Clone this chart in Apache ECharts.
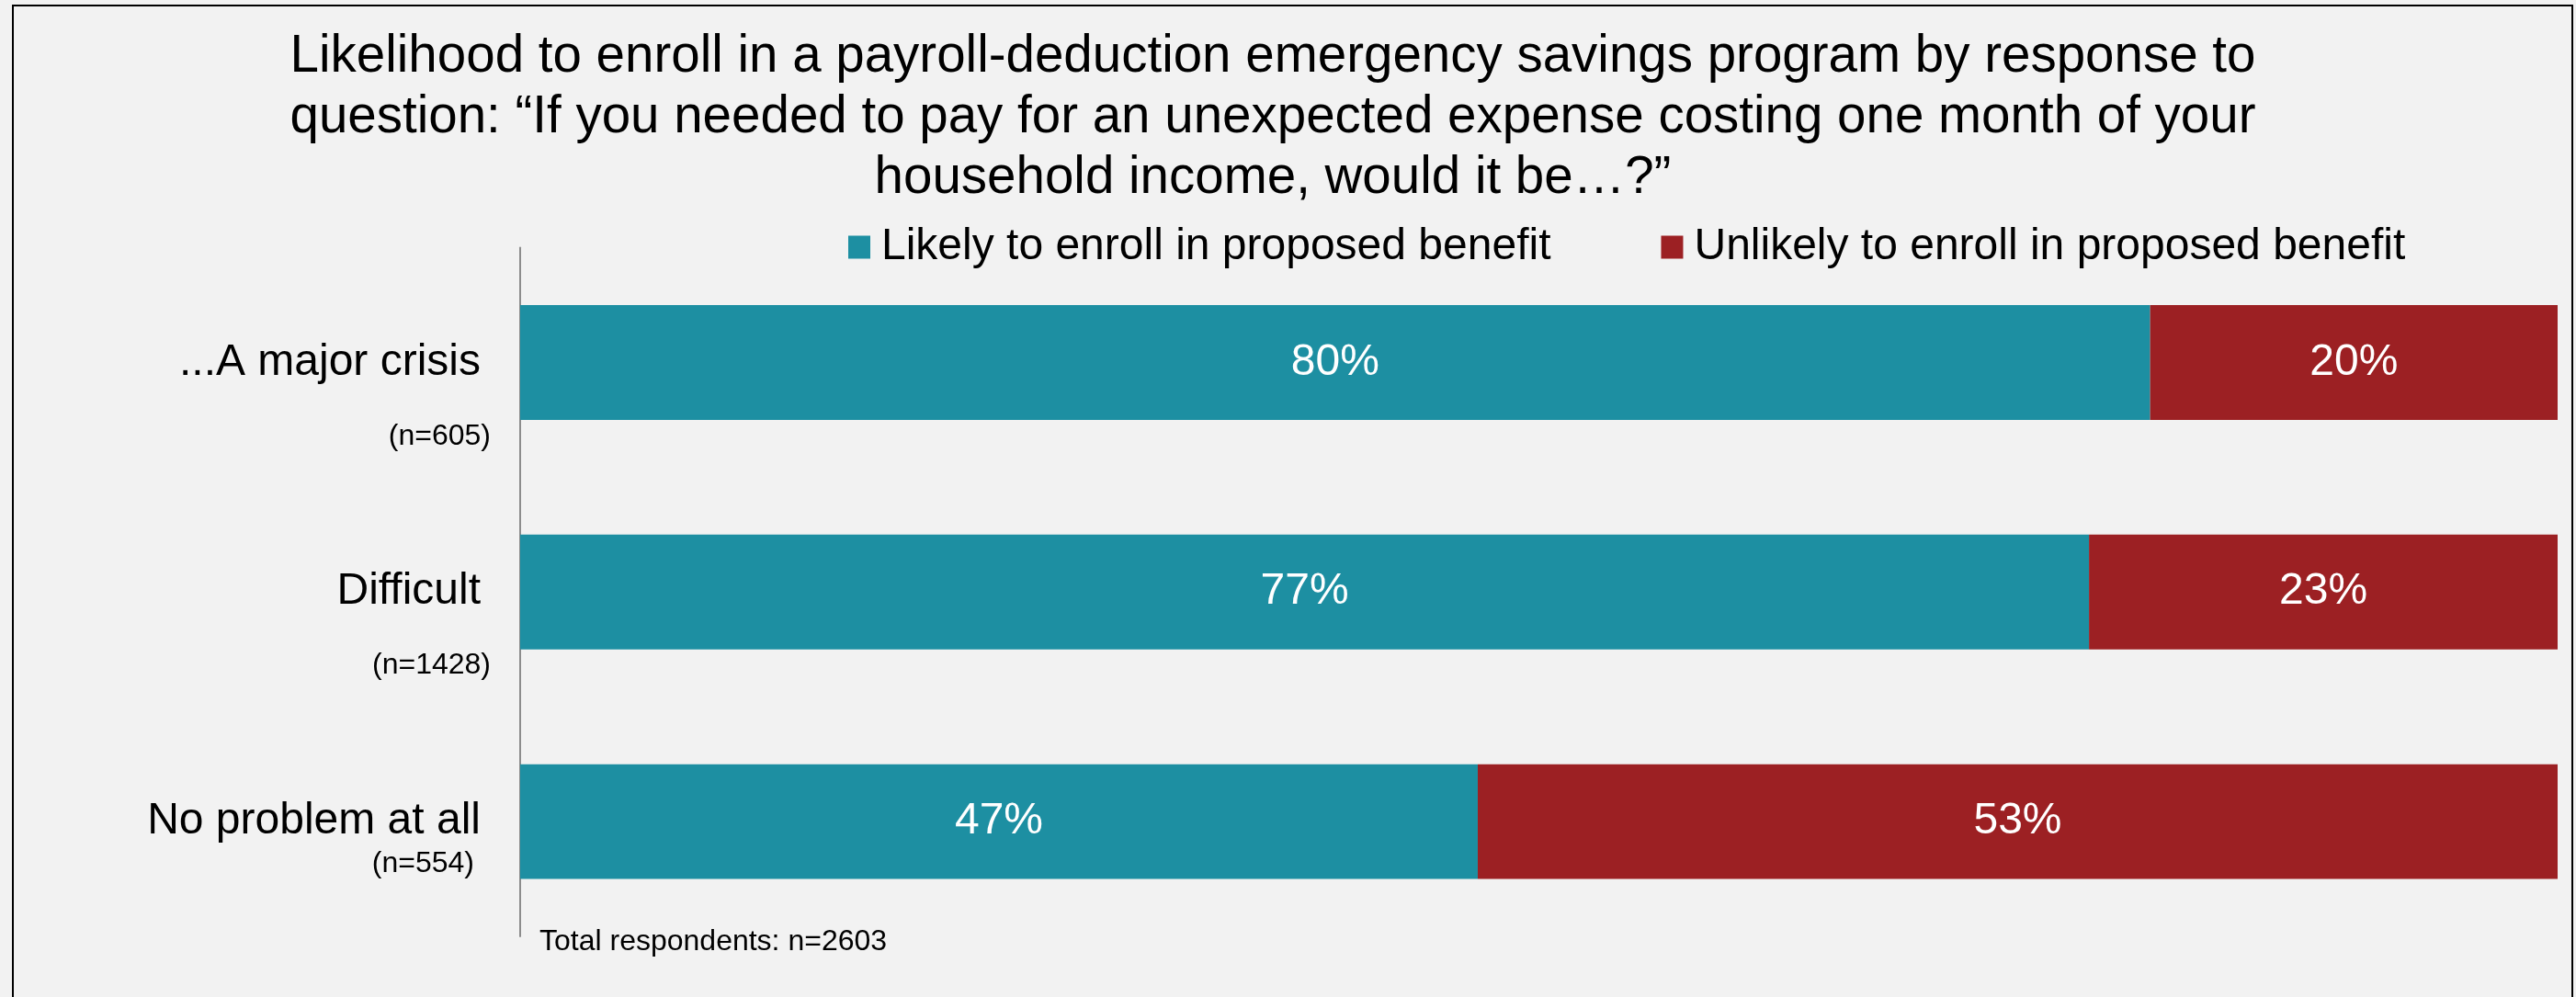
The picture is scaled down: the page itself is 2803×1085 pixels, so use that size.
<!DOCTYPE html>
<html>
<head>
<meta charset="utf-8">
<script src="https://cdn.jsdelivr.net/npm/echarts@6/dist/echarts.min.js"></script>
<style>
  html, body { margin: 0; padding: 0; background: #F2F2F2; }
  #chart { width: 2803px; height: 1085px; }
</style>
</head>
<body>
<div id="chart"></div>
<script>
const categories = ['...A major crisis', 'Difficult', 'No problem at all'];
const subLabels = ['(n=605)', '(n=1428)', '(n=554)'];
const likely = [80, 77, 47];
const unlikely = [20, 23, 53];
const seriesNames = ['Likely to enroll in proposed benefit', 'Unlikely to enroll in proposed benefit'];
const titleText = 'Likelihood to enroll in a payroll-deduction emergency savings program by response to\nquestion: \u201cIf you needed to pay for an unexpected expense costing one month of your\nhousehold income, would it be\u2026?\u201d';
const footnote = 'Total respondents: n=2603';

const FONT = '"Liberation Sans", Arial, Helvetica, sans-serif';
const chart = echarts.init(document.getElementById('chart'), null, { renderer: 'canvas' });

const labelStyle = { show: true, position: 'inside', color: '#FFFFFF', fontSize: 48, fontFamily: FONT, formatter: p => p.value + '%' };

chart.setOption({
  backgroundColor: '#F2F2F2',
  animation: false,
  textStyle: { fontFamily: FONT },
  title: [
    {
      text: titleText,
      left: 1385,
      textAlign: 'center',
      top: 29,
      padding: 0,
      textStyle: { fontSize: 56.5, lineHeight: 66, fontWeight: 'normal', color: '#000000', fontFamily: FONT }
    },
    {
      text: footnote,
      left: 587,
      top: 1009,
      padding: 0,
      textStyle: { fontSize: 32, fontWeight: 'normal', color: '#000000', fontFamily: FONT }
    }
  ],
  legend: {
    data: seriesNames,
    left: 923,
    top: 245,
    padding: 0,
    itemWidth: 24,
    itemHeight: 25,
    itemGap: 120,
    icon: 'rect',
    textStyle: { fontSize: 48, color: '#000000', fontFamily: FONT, padding: [0, 0, 0, 7] }
  },
  grid: { left: 566, right: 20, top: 269.5, bottom: 66, containLabel: false },
  xAxis: {
    type: 'value', min: 0, max: 100, show: false
  },
  yAxis: {
    type: 'category',
    data: categories,
    inverse: true,
    axisLine: { show: true, lineStyle: { color: '#8C8C8C', width: 2 } },
    axisTick: { show: false },
    splitLine: { show: false },
    axisLabel: {
      margin: 32,
      align: 'right',
      formatter: function (value, idx) {
        const k = idx + 1;
        return '{s' + k + '| }\n{a|' + value + '}\n{b' + k + '|' + subLabels[idx] + '}';
      },
      rich: {
        a: { fontSize: 48, lineHeight: 56, color: '#000', fontFamily: FONT, padding: [0, 11, 0, 0] },
        s1: { fontSize: 10, lineHeight: 105 },
        s2: { fontSize: 10, lineHeight: 104 },
        s3: { fontSize: 10, lineHeight: 36 },
        b1: { fontSize: 32, lineHeight: 105, color: '#000', fontFamily: FONT },
        b2: { fontSize: 32, lineHeight: 104, color: '#000', fontFamily: FONT },
        b3: { fontSize: 32, lineHeight: 36, color: '#000', fontFamily: FONT, padding: [0, 18, 0, 0] }
      }
    }
  },
  series: [
    {
      name: seriesNames[0], type: 'bar', stack: 'total', barWidth: '50%',
      itemStyle: { color: '#1D8FA2' },
      label: labelStyle,
      data: likely
    },
    {
      name: seriesNames[1], type: 'bar', stack: 'total', barWidth: '50%',
      itemStyle: { color: '#9C2023' },
      label: labelStyle,
      data: unlikely
    }
  ],
  graphic: [
    {
      type: 'rect', silent: true, z: 100,
      shape: { x: 14, y: 6, width: 2785, height: 1100 },
      style: { fill: 'none', stroke: '#000000', lineWidth: 2 }
    }
  ]
});
</script>
</body>
</html>
